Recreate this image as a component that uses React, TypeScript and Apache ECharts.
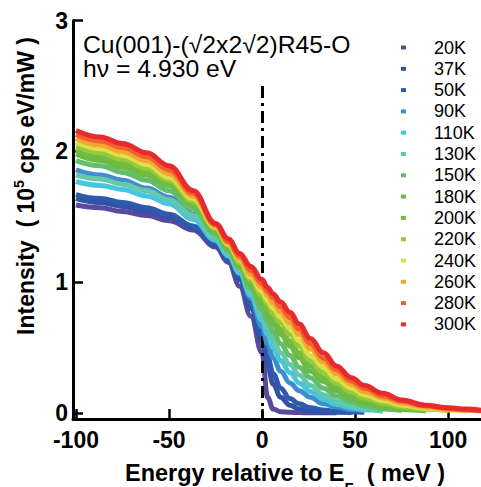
import React, { useEffect, useRef } from 'react';
import * as echarts from 'echarts';

// Energy grid (meV)
const energies = [-100, -87, -75, -62, -50, -37, -25, -18, -12, -6, 0, 3, 6, 10, 15, 20, 26, 33, 40, 48, 55, 65, 75, 88, 100, 110, 118];

const temps = ['20K', '37K', '50K', '90K', '110K', '130K', '150K', '180K', '200K', '220K', '240K', '260K', '280K', '300K'];
const colors = ['#5a4a9e', '#3452a4', '#2e5aae', '#3f8dd0', '#46c6de', '#66c8aa', '#62be6c', '#6cba46', '#70bc3e', '#98c83e', '#dbe044', '#f5a530', '#f06030', '#e8292d'];

// Intensity (10^5 cps eV/mW), aligned with energies
const i20K = [1.59, 1.57, 1.54, 1.51, 1.47, 1.40, 1.27, 1.15, 0.97, 0.74, 0.46, 0.12, 0.03, 0.01, 0.005, 0.003, 0.002, 0.002, 0.002];
const i37K = [1.64, 1.61, 1.58, 1.54, 1.50, 1.42, 1.28, 1.17, 1.02, 0.80, 0.55, 0.36, 0.22, 0.12, 0.06, 0.03, 0.015, 0.008, 0.005, 0.004];
const i50K = [1.67, 1.64, 1.61, 1.57, 1.52, 1.43, 1.29, 1.18, 1.04, 0.84, 0.60, 0.43, 0.30, 0.19, 0.11, 0.07, 0.04, 0.022, 0.013, 0.008, 0.005];
const i90K = [1.86, 1.82, 1.78, 1.72, 1.65, 1.52, 1.34, 1.21, 1.07, 0.88, 0.66, 0.53, 0.42, 0.32, 0.23, 0.17, 0.12, 0.07, 0.045, 0.027, 0.017];
const i110K = [1.77, 1.74, 1.71, 1.66, 1.60, 1.48, 1.32, 1.20, 1.07, 0.90, 0.71, 0.60, 0.50, 0.40, 0.31, 0.23, 0.165, 0.105, 0.065, 0.04, 0.025, 0.014];
const i130K = [1.82, 1.79, 1.75, 1.70, 1.63, 1.51, 1.34, 1.22, 1.09, 0.92, 0.75, 0.65, 0.56, 0.46, 0.37, 0.29, 0.21, 0.14, 0.09, 0.055, 0.035, 0.02];
const i150K = [1.93, 1.89, 1.84, 1.78, 1.70, 1.56, 1.37, 1.24, 1.11, 0.95, 0.79, 0.70, 0.62, 0.53, 0.44, 0.35, 0.27, 0.19, 0.13, 0.085, 0.055, 0.03, 0.018];
const i180K = [1.98, 1.93, 1.88, 1.82, 1.74, 1.59, 1.39, 1.26, 1.13, 0.98, 0.84, 0.76, 0.68, 0.60, 0.51, 0.42, 0.32, 0.24, 0.17, 0.11, 0.075, 0.045, 0.027, 0.015];
const i200K = [2.01, 1.96, 1.91, 1.84, 1.76, 1.60, 1.40, 1.27, 1.14, 1.00, 0.87, 0.79, 0.72, 0.64, 0.55, 0.46, 0.36, 0.27, 0.195, 0.135, 0.095, 0.06, 0.037, 0.02];
const i220K = [2.04, 1.99, 1.94, 1.87, 1.78, 1.62, 1.41, 1.28, 1.15, 1.02, 0.90, 0.83, 0.76, 0.69, 0.60, 0.51, 0.40, 0.31, 0.23, 0.16, 0.115, 0.075, 0.048, 0.028, 0.017];
const i240K = [2.07, 2.02, 1.97, 1.90, 1.80, 1.64, 1.42, 1.29, 1.17, 1.04, 0.93, 0.86, 0.80, 0.73, 0.65, 0.55, 0.44, 0.35, 0.26, 0.19, 0.14, 0.095, 0.062, 0.036, 0.022, 0.015];
const i260K = [2.10, 2.05, 2.00, 1.93, 1.83, 1.66, 1.43, 1.30, 1.18, 1.06, 0.96, 0.90, 0.84, 0.77, 0.69, 0.60, 0.49, 0.39, 0.30, 0.22, 0.165, 0.115, 0.075, 0.045, 0.028, 0.02, 0.014];
const i280K = [2.13, 2.08, 2.03, 1.96, 1.86, 1.68, 1.44, 1.31, 1.20, 1.09, 0.99, 0.93, 0.88, 0.81, 0.73, 0.64, 0.53, 0.42, 0.33, 0.245, 0.19, 0.13, 0.09, 0.055, 0.035, 0.025, 0.018];
const i300K = [2.16, 2.11, 2.06, 1.99, 1.89, 1.70, 1.45, 1.33, 1.22, 1.12, 1.02, 0.96, 0.91, 0.85, 0.77, 0.68, 0.57, 0.46, 0.36, 0.27, 0.21, 0.15, 0.10, 0.06, 0.04, 0.03, 0.02];

const xTicks = [-100, -50, 0, 50, 100];
const yTicks = [0, 1, 2, 3];

const FONT = '"Liberation Sans", Arial, Helvetica, sans-serif';

export default function App() {
  const ref = useRef<HTMLDivElement>(null);
  useEffect(() => {
    const chart = echarts.init(ref.current as HTMLDivElement, null, { renderer: 'svg' });
    const seriesValues = [i20K, i37K, i50K, i90K, i110K, i130K, i150K, i180K, i200K, i220K, i240K, i260K, i280K, i300K];
    const series: any[] = seriesValues.map((vals, k) => ({
      name: temps[k],
      type: 'line',
      data: vals.map((v, i) => [energies[i], v]),
      symbol: 'none',
      showSymbol: false,
      smooth: 0.4,
      smoothMonotone: 'x',
      lineStyle: { width: 5, color: colors[k] },
      itemStyle: { color: colors[k] },
      z: 2 + k,
    }));
    series.push({
      name: 'EF',
      type: 'line',
      data: [],
      z: 30,
      markLine: {
        silent: true,
        symbol: ['none', 'none'],
        label: { show: false },
        lineStyle: { color: '#000', width: 3, type: [12, 5, 3, 5] },
        data: [[{ coord: [0, 2.5] }, { coord: [0, -0.046] }]],
      },
    });

    chart.setOption({
      animation: false,
      grid: { left: 73, right: 0, top: 20.7, bottom: 68, containLabel: false },
      xAxis: {
        type: 'value',
        min: -101.6,
        max: 117.7,
        axisLine: { onZero: false, lineStyle: { color: '#000', width: 3 } },
        axisTick: { inside: true, length: 10, lineStyle: { color: '#000', width: 2.5 }, customValues: xTicks },
        axisLabel: { customValues: xTicks, color: '#000', fontWeight: 'bold', fontSize: 23, fontFamily: FONT, margin: 9 },
        splitLine: { show: false },
      },
      yAxis: {
        type: 'value',
        min: -0.046,
        max: 3,
        axisLine: { show: true, onZero: false, lineStyle: { color: '#000', width: 3 } },
        axisTick: { show: true, inside: true, length: 10, lineStyle: { color: '#000', width: 2.5 }, customValues: yTicks },
        axisLabel: { customValues: yTicks, color: '#000', fontWeight: 'bold', fontSize: 23, fontFamily: FONT, margin: 5 },
        splitLine: { show: false },
      },
      legend: {
        orient: 'vertical',
        left: 401,
        top: 37,
        padding: 0,
        itemGap: 0.3,
        itemWidth: 5,
        itemHeight: 4,
        icon: 'rect',
        data: temps,
        textStyle: { fontSize: 18, fontFamily: FONT, color: '#000', lineHeight: 21, padding: [0, 0, 0, 23] },
      },
      graphic: [
        { type: 'text', x: 83, y: 45, scaleX: 1.03, style: { text: 'Cu(001)-(√2x2√2)R45-O', fontSize: 24, fontFamily: FONT, fill: '#000', align: 'left', verticalAlign: 'middle' } },
        { type: 'text', x: 83, y: 69, scaleX: 1.03, style: { text: 'hν = 4.930 eV', fontSize: 24, fontFamily: FONT, fill: '#000', align: 'left', verticalAlign: 'middle' } },
        {
          type: 'text', x: 285, y: 473,
          style: {
            text: 'Energy relative to E{sub|F}  ( meV )',
            fontSize: 23.5, fontWeight: 'bold', fontFamily: FONT, fill: '#000', align: 'center', verticalAlign: 'middle',
            rich: { sub: { fontSize: 15, fontWeight: 'bold', fontFamily: FONT, fill: '#000', verticalAlign: 'bottom', lineHeight: 44 } },
          },
        },
        {
          type: 'text', x: 26, y: 186, rotation: Math.PI / 2,
          style: {
            text: 'Intensity  ( 10{sup|5} cps eV/mW )',
            fontSize: 23, fontWeight: 'bold', fontFamily: FONT, fill: '#000', align: 'center', verticalAlign: 'middle',
            rich: { sup: { fontSize: 14, fontWeight: 'bold', fontFamily: FONT, fill: '#000', verticalAlign: 'top', lineHeight: 28 } },
          },
        },
      ],
      series,
    });
    return () => chart.dispose();
  }, []);
  return <div ref={ref} style={{ position: 'absolute', left: 0, top: 0, width: 481, height: 487 }} />;
}
